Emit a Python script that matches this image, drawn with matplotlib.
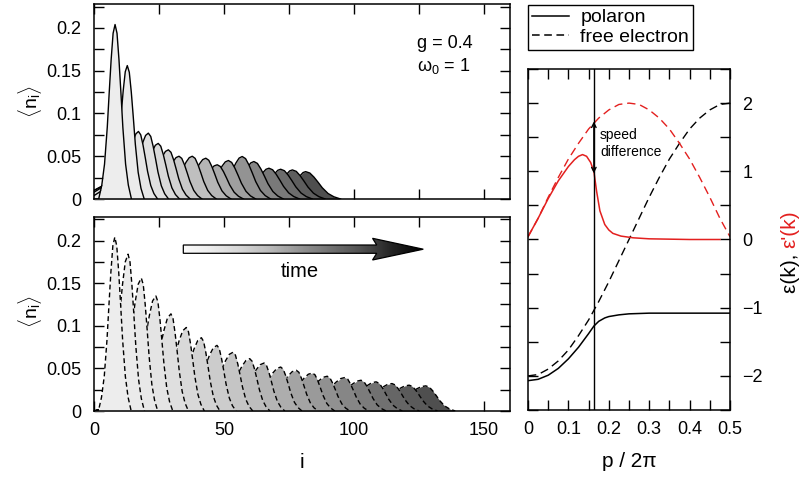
import numpy as np
import matplotlib
matplotlib.use('Agg')
import matplotlib.pyplot as plt
from matplotlib.ticker import MultipleLocator, FuncFormatter
from matplotlib.lines import Line2D
from matplotlib.patches import Polygon

# ---------------- data ----------------
# lower panel: free electron snapshots
# peak site, peak height, rear / front half width of the peak, level of the tail (at the peak foot and half way)
free_peak_i = [8.0, 13.1, 18.2, 23.8, 29.6, 35.5, 41.3, 47.3, 53.5, 59.9, 65.4,
               71.8, 77.8, 84.0, 89.7, 96.5, 102.7, 108.5, 114.6, 121.2, 127.6]
free_peak_n = [0.204, 0.184, 0.156, 0.135, 0.114, 0.098, 0.086, 0.077, 0.069, 0.0614, 0.0563,
               0.0516, 0.0478, 0.0446, 0.0408, 0.0393, 0.0361, 0.0342, 0.0322, 0.0303, 0.0295]
free_rear = [3.0, 4.3, 4.8, 5.1, 5.3, 5.5, 5.6, 5.7, 5.8, 5.9, 6.0,
             6.1, 6.2, 6.3, 6.4, 6.5, 6.6, 6.7, 6.8, 6.9, 7.0]
free_front = [3.0, 3.0, 3.0, 3.1, 3.2, 3.3, 3.4, 3.5, 3.6, 3.7, 3.8,
              3.9, 4.0, 4.1, 4.2, 4.4, 4.6, 4.8, 5.0, 5.2, 5.4]
free_base_n = [0.0, 0.004, 0.012, 0.017, 0.02, 0.021, 0.021, 0.02, 0.019, 0.018, 0.017,
               0.016, 0.0155, 0.015, 0.0145, 0.014, 0.0135, 0.013, 0.0125, 0.012, 0.0115]
free_mid_n = [0.0, 0.001, 0.004, 0.006, 0.007, 0.007, 0.007, 0.007, 0.0065, 0.0063, 0.006,
              0.0057, 0.0055, 0.0053, 0.0051, 0.005, 0.0048, 0.0046, 0.0044, 0.0042, 0.004]

# upper panel: polaron snapshots
pol_peak_i = [8.1, 12.8, 17.1, 20.9, 24.7, 28.6, 32.7, 37.8, 43.0, 47.4, 51.7,
              57.0, 61.5, 67.3, 71.8, 76.3, 81.4]
pol_peak_n = [0.204, 0.156, 0.079, 0.077, 0.065, 0.0575, 0.050, 0.050, 0.0477, 0.040, 0.045,
              0.0497, 0.0438, 0.036, 0.0348, 0.034, 0.032]
pol_rear = [3.0, 3.1, 4.0, 4.2, 4.4, 4.5, 4.6, 4.7, 4.8, 4.8, 4.8,
            4.8, 4.8, 4.6, 4.4, 4.2, 4.0]
pol_front = [3.0, 3.1, 3.5, 3.7, 3.9, 4.0, 4.2, 4.4, 4.6, 4.8, 5.0,
             5.2, 5.4, 5.6, 5.8, 6.0, 6.4]
pol_base_n = [0.0, 0.012, 0.022, 0.024, 0.022, 0.02, 0.018, 0.016, 0.015, 0.014, 0.013,
              0.012, 0.012, 0.011, 0.011, 0.011, 0.0105]
pol_mid_n = [0.0, 0.01, 0.016, 0.02, 0.022, 0.02, 0.018, 0.016, 0.015, 0.014, 0.013,
             0.013, 0.012, 0.012, 0.011, 0.011, 0.010]
pol_start_n = [0.0, 0.004, 0.008, 0.01, 0.01, 0.008, 0.007, 0.006, 0.005, 0.005, 0.004,
               0.004, 0.004, 0.003, 0.003, 0.003, 0.003]

# shape of one peak (offset in half widths, height relative to the peak), read from the first peak
bump_off = [-2.1, -1.7, -1.35, -1.0, -0.75, -0.5, -0.25, 0.0, 0.25, 0.5, 0.75, 1.0, 1.35, 1.7, 2.1]
bump_rel = [0.0, 0.08, 0.2, 0.41, 0.61, 0.8, 0.95, 1.0, 0.95, 0.8, 0.61, 0.41, 0.2, 0.08, 0.0]

# right panel: dispersion and its derivative
p_grid = [0.0, 0.025, 0.05, 0.075, 0.1, 0.125, 0.15, 0.175, 0.2, 0.225, 0.25,
          0.275, 0.3, 0.325, 0.35, 0.375, 0.4, 0.425, 0.45, 0.475, 0.5]
free_eps = [-2.0, -1.98, -1.90, -1.78, -1.62, -1.41, -1.18, -0.91, -0.62, -0.31, 0.0,
            0.31, 0.62, 0.91, 1.18, 1.41, 1.62, 1.78, 1.90, 1.98, 2.0]
free_deps = [0.04, 0.31, 0.62, 0.91, 1.18, 1.41, 1.62, 1.78, 1.90, 1.98, 2.0,
             1.98, 1.90, 1.78, 1.62, 1.41, 1.18, 0.91, 0.62, 0.31, 0.04]
pol_p = [0.0, 0.025, 0.05, 0.075, 0.1, 0.125, 0.15, 0.163, 0.175, 0.19, 0.2, 0.225, 0.25, 0.3, 0.4, 0.5]
pol_eps = [-2.07, -2.05, -1.99, -1.89, -1.75, -1.58, -1.38, -1.27, -1.20, -1.15, -1.13,
           -1.105, -1.09, -1.08, -1.08, -1.08]
dpol_p = [0.0, 0.025, 0.05, 0.075, 0.1, 0.115, 0.125, 0.135, 0.145, 0.155, 0.163, 0.17,
          0.178, 0.19, 0.2, 0.21, 0.23, 0.26, 0.3, 0.35, 0.4, 0.475]
dpol_val = [0.04, 0.31, 0.60, 0.86, 1.07, 1.17, 1.22, 1.245, 1.22, 1.13, 1.0, 0.70,
            0.42, 0.22, 0.14, 0.09, 0.05, 0.025, 0.01, 0.005, 0.0, 0.0]
p_cut = 0.163

RED = '#e3201f'

plt.rcParams['font.family'] = ['Liberation Sans', 'DejaVu Sans']
plt.rcParams['mathtext.fontset'] = 'custom'
plt.rcParams['mathtext.rm'] = 'Liberation Sans'
plt.rcParams['mathtext.it'] = 'Liberation Sans'
plt.rcParams['axes.linewidth'] = 1.1


def profile(peak_i, peak_n, rear, front, base_n, mid_n, start_n=0.0):
    """vertices of one snapshot: slow tail, then the peak"""
    foot = peak_i + bump_off[0] * rear
    xs = [0.0, 0.5 * foot]
    ys = [start_n, mid_n]
    for off, rel in zip(bump_off, bump_rel):
        if off <= 0:
            xs.append(peak_i + off * rear)
            ys.append(base_n + (peak_n - base_n) * rel)
        else:
            xs.append(peak_i + off * front)
            ys.append(peak_n * rel)
    return np.array(xs), np.array(ys)


def fmt(v, pos):
    return ('%g' % v).replace('-', '\u2212')


def style(ax):
    ax.tick_params(which='both', direction='in', length=7, width=1,
                   top=True, right=True, labelsize=13)


W, H = 802, 480
fig = plt.figure(figsize=(W / 100, H / 100), dpi=100)
ax_top = fig.add_axes([94 / W, 1 - 199 / H, 416 / W, 195 / H])
ax_bot = fig.add_axes([94 / W, 1 - 411 / H, 416 / W, 194.3 / H])
ax_r = fig.add_axes([528 / W, 1 - 410 / H, 202 / W, 341 / H])

# ---------- waterfall panels ----------
panels = [
    (ax_top, pol_peak_i, pol_peak_n, pol_rear, pol_front, pol_base_n, pol_mid_n, pol_start_n, '-'),
    (ax_bot, free_peak_i, free_peak_n, free_rear, free_front, free_base_n, free_mid_n,
     [0.0] * len(free_peak_i), (0, (3.5, 2.2))),
]
for ax, pk, ph, pr, pf, pb, pm, ps, ls in panels:
    nsnap = len(pk)
    greys = 0.93 - 0.62 * np.linspace(0, 1, nsnap) ** 1.5   # light -> dark with time
    for k in range(nsnap - 1, -1, -1):  # latest first, earliest on top
        xs, ys = profile(pk[k], ph[k], pr[k], pf[k], pb[k], pm[k], ps[k])
        z = 2 + (nsnap - k) * 0.01
        ax.fill_between(xs, 0, ys, color=str(greys[k]), lw=0, zorder=z)
        ax.plot(xs, ys, color='k', lw=1.0, ls=ls, zorder=z + 0.005)
    ax.set_xlim(0, 160)
    ax.set_ylim(0, 0.228)
    ax.xaxis.set_major_locator(MultipleLocator(50))
    ax.xaxis.set_minor_locator(MultipleLocator(25))
    ax.yaxis.set_major_locator(MultipleLocator(0.05))
    ax.yaxis.set_minor_locator(MultipleLocator(0.025))
    ax.yaxis.set_major_formatter(FuncFormatter(fmt))
    ax.xaxis.set_major_formatter(FuncFormatter(fmt))
    style(ax)
    ax.tick_params(axis='y', which='both', pad=9)
    ax.tick_params(axis='x', which='both', pad=8)

ax_top.tick_params(labelbottom=False)
ax_top.text(0.776, 0.795, 'g = 0.4', transform=ax_top.transAxes, fontsize=13, va='center')
ax_top.text(0.776, 0.682, 'ω$_\\mathrm{0}$ = 1', transform=ax_top.transAxes, fontsize=13, va='center')
ax_bot.set_xlabel('i', fontsize=15, labelpad=10)

fig.text(30 / W, 1 - 102 / H, r'$\langle \mathrm{n}_\mathrm{i} \rangle$', rotation=90,
         fontsize=14, ha='center', va='center')
fig.text(30 / W, 1 - 312 / H, r'$\langle \mathrm{n}_\mathrm{i} \rangle$', rotation=90,
         fontsize=14, ha='center', va='center')

# gradient "time" arrow
x0, xh, xt = 0.2147, 0.6796, 0.7916
yb, yt, yhb, yht, yc = 0.8116, 0.8543, 0.7772, 0.8888, 0.8327
arrow_xy = [(x0, yb), (xh, yb), (xh - 0.01, yhb), (xt, yc), (xh - 0.01, yht), (xh, yt), (x0, yt)]
grad = np.linspace(0, 1, 256).reshape(1, -1)
im = ax_bot.imshow(grad, cmap='Greys', vmin=-0.04, vmax=1.0, extent=[x0, xt, yhb, yht],
                   transform=ax_bot.transAxes, aspect='auto', zorder=5)
poly = Polygon(arrow_xy, closed=True, transform=ax_bot.transAxes, facecolor='none',
               edgecolor='k', lw=0.9, zorder=6)
ax_bot.add_patch(poly)
im.set_clip_path(poly)
ax_bot.set_xlim(0, 160)
ax_bot.set_ylim(0, 0.228)
ax_bot.text(0.495, 0.717, 'time', transform=ax_bot.transAxes, fontsize=14.5,
            ha='center', va='center')

# ---------- dispersion panel ----------
ax_r.plot(p_grid, free_eps, color='k', lw=1.0, ls=(0, (6, 3.5)))
ax_r.plot(p_grid, free_deps, color=RED, lw=1.0, ls=(0, (6, 3.5)))
ax_r.plot(pol_p, pol_eps, color='k', lw=1.1)
ax_r.plot(dpol_p, dpol_val, color=RED, lw=1.1)
ax_r.axvline(p_cut, color='k', lw=1.0)
ax_r.annotate('', xy=(p_cut, 1.73), xytext=(p_cut, 0.97),
              arrowprops=dict(arrowstyle='<->', lw=1.0, color='k', mutation_scale=8,
                              shrinkA=0, shrinkB=0))
ax_r.text(0.178, 1.41, 'speed\ndifference', fontsize=10, ha='left', va='center', linespacing=1.25)
ax_r.set_xlim(0, 0.5)
ax_r.set_ylim(-2.5, 2.5)
ax_r.xaxis.set_major_locator(MultipleLocator(0.1))
ax_r.xaxis.set_minor_locator(MultipleLocator(0.05))
ax_r.yaxis.set_major_locator(MultipleLocator(1))
ax_r.yaxis.set_minor_locator(MultipleLocator(0.5))
ax_r.xaxis.set_major_formatter(FuncFormatter(fmt))
ax_r.yaxis.set_major_formatter(FuncFormatter(fmt))
style(ax_r)
ax_r.tick_params(labelleft=False, labelright=True)
ax_r.tick_params(axis='y', which='both', pad=9)
ax_r.tick_params(axis='x', which='both', pad=8)
ax_r.set_xlabel('p / 2π', fontsize=15, labelpad=10)

# two-coloured axis label on the right
t1 = fig.text(790 / W, 1 - 293 / H, 'ε(k), ', rotation=90, fontsize=15,
              ha='center', va='bottom', color='k')
fig.canvas.draw()
bb = t1.get_window_extent(renderer=fig.canvas.get_renderer())
fig.text(790 / W, bb.y1 / fig.bbox.height, "ε'(k)", rotation=90, fontsize=15,
         ha='center', va='bottom', color=RED)

handles = [Line2D([], [], color='k', lw=1.1),
           Line2D([], [], color='k', lw=1.1, ls=(0, (5, 3)))]
leg = fig.legend(handles, ['polaron', 'free electron'], loc='upper left',
                 bbox_to_anchor=(528 / W, 1 - 5 / H), borderaxespad=0, fontsize=14,
                 fancybox=False, framealpha=1, edgecolor='k', handlelength=1.9,
                 labelspacing=0.1, borderpad=0.2, handletextpad=0.6)
leg.get_frame().set_linewidth(1.0)

fig.savefig('out.png', dpi=100)
